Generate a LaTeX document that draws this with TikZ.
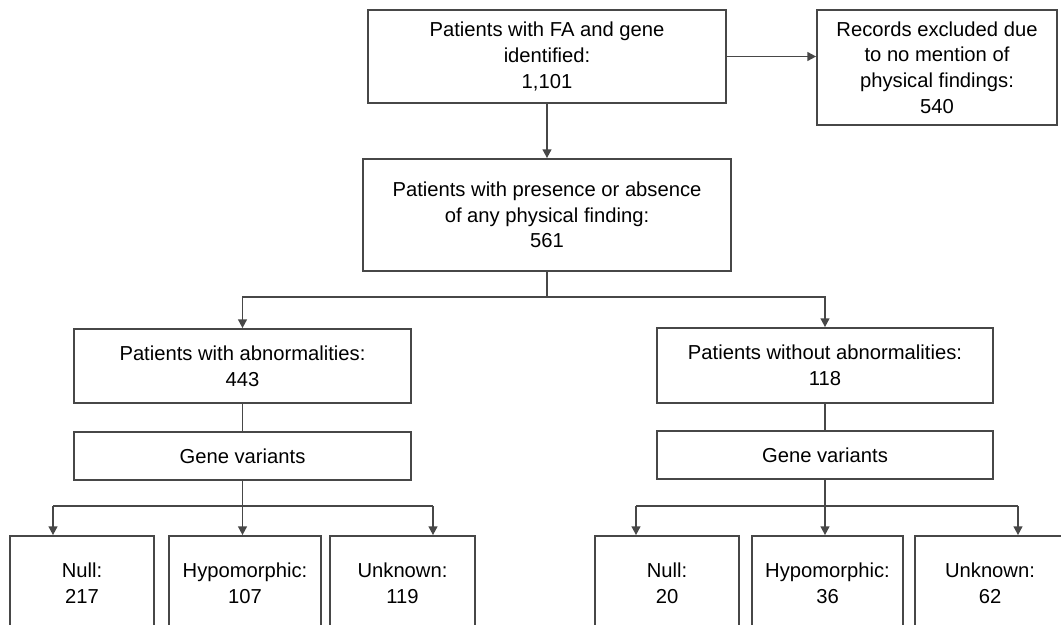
\documentclass[tikz,border=0pt]{standalone}
\usepackage{fontspec}
\setmainfont{Liberation Sans}
\usetikzlibrary{arrows.meta}

\begin{document}
\begin{tikzpicture}
  [x=0.02cm,y=-0.02cm,line width=1pt,
   every node/.style={draw=black!72,rectangle,align=center,inner sep=0pt,
     font=\fontsize{11.5}{14.6}\selectfont},
   arr/.style={-{Triangle[length=5pt,width=5pt]}},
   leaf/.style={minimum height=1.88cm}]
  \path[use as bounding box,clip] (0,0) rectangle (1061,625);

  \node[minimum width=7.16cm,minimum height=1.86cm] (fa) at (547,56.5)
    {Patients with FA and gene\\identified:\\1,101};
  \node[minimum width=4.8cm,minimum height=2.3cm] (excl) at (937,67.5)
    {Records excluded due\\to no mention of\\physical findings:\\540};
  \node[minimum width=7.36cm,minimum height=2.24cm] (phys) at (547,215)
    {Patients with presence or absence\\of any physical finding:\\561};

  \node[minimum width=6.74cm,minimum height=1.48cm] (abn) at (242.5,366)
    {Patients with abnormalities:\\443};
  \node[minimum width=6.74cm,minimum height=0.96cm] (gvl) at (242.5,456)
    {Gene variants};
  \node[minimum width=6.72cm,minimum height=1.5cm] (noabn) at (825,365.5)
    {Patients without abnormalities:\\118};
  \node[minimum width=6.72cm,minimum height=0.96cm] (gvr) at (825,455)
    {Gene variants};

  \node[leaf,minimum width=2.88cm] (null1) at (82,583) {Null:\\217};
  \node[leaf,minimum width=3.04cm] (hyp1) at (245,583) {Hypomorphic:\\107};
  \node[leaf,minimum width=2.9cm] (unk1) at (402.5,583) {Unknown:\\119};
  \node[leaf,minimum width=2.88cm] (null2) at (667,583) {Null:\\20};
  \node[leaf,minimum width=3.02cm] (hyp2) at (827.5,583) {Hypomorphic:\\36};
  \node[leaf,minimum width=3cm] (unk2) at (990,583) {Unknown:\\62};

  \coordinate (split) at (547,297);
  \coordinate (ln) at (53,506);
  \coordinate (lu) at (433,506);
  \coordinate (rn) at (636,506);
  \coordinate (ru) at (1018,506);

  \begin{scope}[draw=black!72]
    \draw[arr] (fa.east) -- (fa.east -| excl.west);
    \draw[arr] (fa) -- (phys);
    \draw (phys) -- (split);
    \draw[arr] (split) -| (abn.north);
    \draw[arr] (split) -| (noabn.north);

    \foreach \from/\to in {abn/gvl,noabn/gvr}
      \draw (\from) -- (\to);

    \draw[arr] (gvl.south) -- (gvl.south |- hyp1.north);
    \draw[arr] (gvr.south) -- (gvr.south |- hyp2.north);
    \draw (ln) -- (lu);
    \draw (rn) -- (ru);
    \foreach \pt/\to in {ln/null1,lu/unk1,rn/null2,ru/unk2}
      \draw[arr] (\pt) -- (\pt |- \to.north);
  \end{scope}
\end{tikzpicture}
\end{document}
